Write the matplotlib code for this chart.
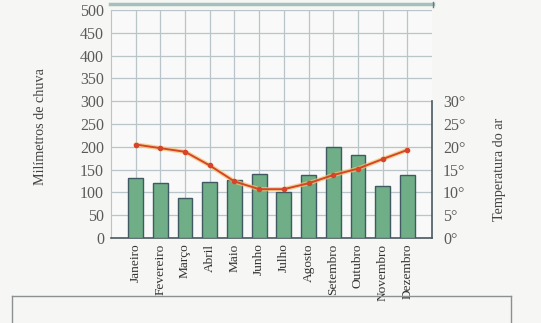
import matplotlib
matplotlib.use("Agg")
import matplotlib.pyplot as plt
from matplotlib.lines import Line2D

months = ["Janeiro", "Fevereiro", "Março", "Abril", "Maio", "Junho",
          "Julho", "Agosto", "Setembro", "Outubro", "Novembro", "Dezembro"]
rain_mm = [132, 121, 88, 123, 127, 140, 101, 138, 200, 182, 115, 138]
temp_c = [20.5, 19.7, 18.9, 15.9, 12.4, 10.7, 10.7, 12.0, 13.8, 15.2, 17.3, 19.3]
rain_ticks = [0, 50, 100, 150, 200, 250, 300, 350, 400, 450, 500]
temp_ticks = [0, 5, 10, 15, 20, 25, 30]

serif = ["Liberation Serif", "DejaVu Serif"]
plt.rcParams["font.family"] = serif

fig = plt.figure(figsize=(5.41, 3.23), dpi=100, facecolor="#f6f6f4")
ax = fig.add_axes([0.2052, 0.2632, 0.5933, 0.7059], facecolor="#f8f9f8")
x = list(range(len(months)))

grid_c = "#b9c5c8"
ax.set_xlim(-1, 12)
ax.set_ylim(0, 500)
ax.set_yticks(rain_ticks)
ax.set_yticklabels([str(v) for v in rain_ticks], fontsize=11.5, color="#5a5a5a")
ax.set_xticks(x)
ax.set_xticklabels(months, rotation=90, fontsize=9.6, color="#333333")
ax.tick_params(axis="both", length=0)
ax.tick_params(axis="y", pad=5)
ax.tick_params(axis="x", pad=4)
ax.grid(True, color=grid_c, linewidth=0.9)
ax.set_axisbelow(True)
for s in ["top", "right"]:
    ax.spines[s].set_visible(False)
ax.spines["left"].set_color(grid_c)
ax.spines["bottom"].set_color("#4a5a60")
ax.spines["bottom"].set_linewidth(1.2)

ax.bar(x, rain_mm, width=0.6, color="#6fae86", edgecolor="#3f5a63",
       linewidth=1.0, zorder=3)

temp_as_mm = [t * 10 for t in temp_c]
ax.plot(x, temp_as_mm, color="#f3c56a", linewidth=3.2, alpha=0.7, zorder=4,
        solid_capstyle="round")
ax.plot(x, temp_as_mm, color="#d6452a", linewidth=1.4, marker="o",
        markersize=3.0, zorder=5)

ax.set_ylabel("Milímetros de chuva", fontsize=10.2, color="#444444")
ax.yaxis.set_label_coords(-0.198, 0.49)

ax2 = ax.twinx()
ax2.set_ylim(0, 50)
ax2.set_yticks(temp_ticks)
ax2.set_yticklabels([f"{v}°" for v in temp_ticks], fontsize=11.5, color="#5a5a5a")
ax2.tick_params(axis="y", length=0, pad=8)
for s in ["top", "left", "bottom"]:
    ax2.spines[s].set_visible(False)
ax2.spines["right"].set_bounds(0, 30)
ax2.spines["right"].set_color("#4a5a60")
ax2.spines["right"].set_linewidth(1.2)
ax2.set_ylabel("Temperatura do ar", fontsize=10.2, color="#444444")
ax2.yaxis.set_label_coords(1.19, 0.303)

W, H = 541, 323
fig.add_artist(Line2D([110 / W, 433 / W], [1 - 4 / H, 1 - 4 / H],
                      color="#a3c0bc", linewidth=2.5, transform=fig.transFigure))
fig.add_artist(Line2D([432.5 / W, 432.5 / W], [1 - 2 / H, 1 - 7 / H],
                      color="#6a7a80", linewidth=1.0, transform=fig.transFigure))
fig.add_artist(Line2D([12 / W, 511 / W], [1 - 296 / H, 1 - 296 / H],
                      color="#8c9090", linewidth=1.0, transform=fig.transFigure))
fig.add_artist(Line2D([12 / W, 12 / W], [1 - 296 / H, 0], color="#8c9090",
                      linewidth=1.0, transform=fig.transFigure))
fig.add_artist(Line2D([511 / W, 511 / W], [1 - 296 / H, 0], color="#8c9090",
                      linewidth=1.0, transform=fig.transFigure))

fig.savefig("out.png", dpi=100, facecolor=fig.get_facecolor())
